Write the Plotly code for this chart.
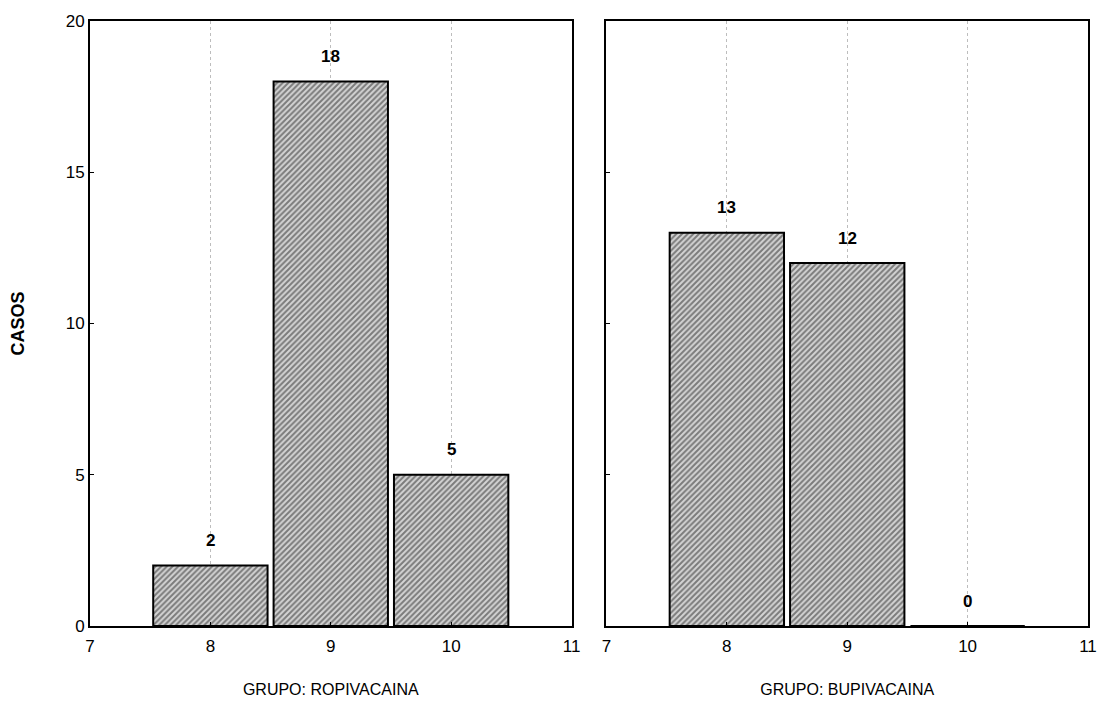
import plotly.graph_objects as go
from plotly.subplots import make_subplots

categories = [8, 9, 10]
ropivacaina = [2, 18, 5]
bupivacaina = [13, 12, 0]
panel_titles = ["GRUPO: ROPIVACAINA", "GRUPO: BUPIVACAINA"]
x_ticks = [7, 8, 9, 10, 11]
y_ticks = [0, 5, 10, 15, 20]

FONT = "Liberation Sans, Arial"

fig = make_subplots(rows=1, cols=2, shared_yaxes=False, horizontal_spacing=0.035)

bar_style = dict(
    width=0.95,
    marker=dict(
        color="#cfcfcf",
        line=dict(color="black", width=2),
        pattern=dict(shape="/", fgcolor="#222222", bgcolor="#d4d4d4", size=4, solidity=0.5),
    ),
    showlegend=False,
    hoverinfo="skip",
)

for i, vals in enumerate([ropivacaina, bupivacaina], start=1):
    fig.add_trace(go.Bar(x=categories, y=vals, **bar_style), row=1, col=i)
    for c, v in zip(categories, vals):
        fig.add_annotation(
            x=c, y=v, text=f"<b>{v}</b>", showarrow=False, yshift=25,
            font=dict(family=FONT, size=17, color="black"),
            xref=f"x{'' if i == 1 else i}", yref=f"y{'' if i == 1 else i}",
        )

axis_common = dict(
    showline=True, linecolor="black", linewidth=2, mirror=True,
    ticks="inside", ticklen=4, tickcolor="black",
    tickfont=dict(family=FONT, size=17, color="black"),
    zeroline=False, automargin=False,
)

for i in (1, 2):
    fig.update_xaxes(
        range=[7, 11], tickvals=x_ticks, showgrid=True, gridcolor="#bdbdbd",
        griddash="dot", gridwidth=1, ticklabelstandoff=4,
        title=dict(text=panel_titles[i - 1], font=dict(family=FONT, size=16, color="black"), standoff=28),
        **axis_common, row=1, col=i,
    )
    fig.update_yaxes(
        range=[0, 20], tickvals=y_ticks, showgrid=False,
        showticklabels=(i == 1), **axis_common, row=1, col=i,
    )

fig.update_yaxes(
    title=dict(text="<b>CASOS</b>", font=dict(family=FONT, size=18, color="black"), standoff=36),
    row=1, col=1,
)

fig.update_layout(
    width=1103, height=705,
    margin=dict(l=90, r=15, t=21, b=79),
    plot_bgcolor="white", paper_bgcolor="white",
    bargap=0.04,
)

fig.write_html(
    "out.html",
    config={"displayModeBar": False},
    post_script="document.body.style.margin='0';document.body.style.overflow='hidden';",
)
